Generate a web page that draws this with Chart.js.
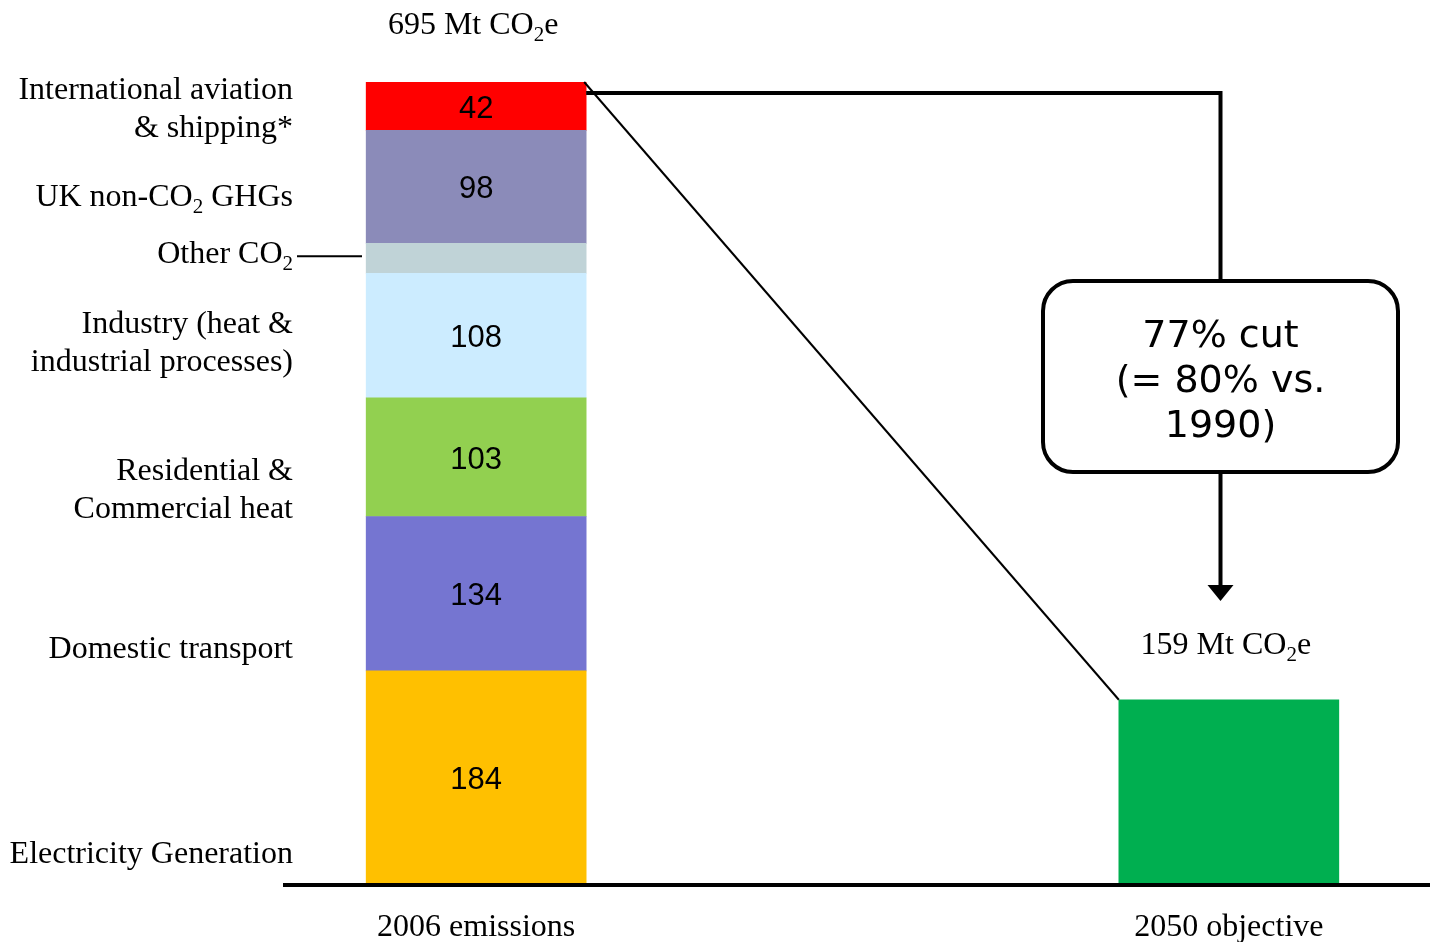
<!DOCTYPE html>
<html>
<head>
<meta charset="utf-8">
<title>UK emissions: 2006 vs 2050 objective</title>
<script src="https://cdn.jsdelivr.net/npm/chart.js@4.4.0/dist/chart.umd.min.js"></script>
<style>
  html, body { margin: 0; padding: 0; background: #fff; }
  #wrap { width: 1430px; height: 942px; }
</style>
</head>
<body>
<div id="wrap"><canvas id="chart" width="1430" height="942"></canvas></div>
<script>
// data
const categories = ['2006 emissions', '', '2050 objective'];
const sectors = [
    'Electricity Generation',
    'Domestic transport',
    'Residential &\nCommercial heat',
    'Industry (heat &\nindustrial processes)',
    'Other CO₂',
    'UK non-CO₂ GHGs',
    'International aviation\n& shipping*'
];
const emissions2006 = [184, 134, 103, 108, 26, 98, 42];
const objective2050 = [159];
const cutText = ['77% cut', '(= 80% vs.', '1990)'];

const sectorColors = ['#FFC000', '#7575D1', '#92D050', '#CCECFF', '#C0D3D7', '#8B8BB9', '#FF0000'];
const objectiveColor = '#00AF50';
const total2006 = emissions2006.reduce((a, b) => a + b, 0);

const SERIF = "'Liberation Serif', 'Times New Roman', serif";
const SANS = "'Liberation Sans', Arial, sans-serif";
const VERDANA = "'DejaVu Sans', Verdana, sans-serif";

// text with a real subscript 2 for CO₂
function drawRich(ctx, text, x, y, size, family, align) {
    const mainFont = size + 'px ' + family;
    const subFont = Math.round(size * 0.65) + 'px ' + family;
    const runs = [];
    text.split('₂').forEach((p, i, arr) => {
        runs.push({ t: p, sub: false });
        if (i < arr.length - 1) runs.push({ t: '2', sub: true });
    });
    let w = 0;
    runs.forEach(r => {
        ctx.font = r.sub ? subFont : mainFont;
        r.w = ctx.measureText(r.t).width;
        w += r.w;
    });
    let cx = align === 'right' ? x - w : align === 'center' ? x - w / 2 : x;
    ctx.textAlign = 'left';
    ctx.textBaseline = 'alphabetic';
    runs.forEach(r => {
        ctx.font = r.sub ? subFont : mainFont;
        ctx.fillText(r.t, cx, r.sub ? y + size * 0.22 : y);
        cx += r.w;
    });
}

const datasets = sectors.map((name, i) => ({
    label: name,
    data: [emissions2006[i], null, null],
    backgroundColor: sectorColors[i],
    borderWidth: 0,
    stack: 'all',
    barThickness: 220
}));
datasets.push({
    label: '2050 objective',
    data: [null, null, objective2050[0]],
    backgroundColor: objectiveColor,
    borderWidth: 0,
    stack: 'all',
    barThickness: 220
});

// 注释：标签、连线、方框
const annotations = {
    id: 'annotations',
    afterDatasetsDraw(chart) {
        const ctx = chart.ctx;
        const area = chart.chartArea;
        ctx.save();
        ctx.fillStyle = '#000';
        ctx.strokeStyle = '#000';

        // baseline
        ctx.lineWidth = 4;
        ctx.beginPath();
        ctx.moveTo(283, area.bottom + 2);
        ctx.lineTo(chart.width, area.bottom + 2);
        ctx.stroke();

        // segment labels on the left + values inside
        const nudge = [75, 53, 30, 5, -7, 8, 0];
        sectors.forEach((name, i) => {
            const el = chart.getDatasetMeta(i).data[0];
            const cy = (el.y + el.base) / 2;
            if (name !== 'Other CO₂') {
                ctx.font = '31px ' + SANS;
                ctx.textAlign = 'center';
                ctx.textBaseline = 'middle';
                ctx.fillText(String(emissions2006[i]), el.x, cy + 3);
            } else {
                ctx.lineWidth = 2;
                ctx.beginPath();
                ctx.moveTo(297, cy - 2);
                ctx.lineTo(362, cy - 2);
                ctx.stroke();
            }
            const lines = name.split('\n');
            const mid = cy + nudge[i];
            lines.forEach((ln, j) => {
                const by = mid + (j - (lines.length - 1) / 2) * 38 + 11.5;
                drawRich(ctx, ln, 293, by, 32, SERIF, 'right');
            });
        });

        // totals above bars
        const top1 = chart.getDatasetMeta(sectors.length - 1).data[0];
        const bar2 = chart.getDatasetMeta(sectors.length).data[2];
        drawRich(ctx, total2006 + ' Mt CO₂e', top1.x - 3, top1.y - 48, 32, SERIF, 'center');
        drawRich(ctx, objective2050[0] + ' Mt CO₂e', bar2.x - 3, bar2.y - 46, 32, SERIF, 'center');

        // diagonal from bar to bar
        ctx.lineWidth = 2;
        ctx.beginPath();
        ctx.moveTo(top1.x + top1.width / 2 - 2, top1.y);
        ctx.lineTo(bar2.x - bar2.width / 2, bar2.y);
        ctx.stroke();

        // callout box
        const box = { x: 1043, y: 281, w: 355, h: 191, r: 30 };
        const colX = box.x + box.w / 2;
        ctx.lineWidth = 4;
        ctx.beginPath();
        ctx.moveTo(top1.x + top1.width / 2, top1.y + 11);
        ctx.lineTo(colX, top1.y + 11);
        ctx.lineTo(colX, box.y);
        ctx.moveTo(colX, box.y + box.h);
        ctx.lineTo(colX, 586);
        ctx.stroke();
        ctx.beginPath();
        ctx.moveTo(colX - 13, 585);
        ctx.lineTo(colX + 13, 585);
        ctx.lineTo(colX, 601);
        ctx.closePath();
        ctx.fill();

        ctx.beginPath();
        ctx.roundRect(box.x, box.y, box.w, box.h, box.r);
        ctx.fillStyle = '#fff';
        ctx.fill();
        ctx.stroke();
        ctx.fillStyle = '#000';
        ctx.font = '38px ' + VERDANA;
        ctx.textAlign = 'center';
        ctx.textBaseline = 'alphabetic';
        cutText.forEach((t, j) => ctx.fillText(t, colX, 347 + j * 45));

        ctx.restore();
    }
};

new Chart(document.getElementById('chart'), {
    type: 'bar',
    data: { labels: categories, datasets: datasets },
    options: {
        responsive: false,
        devicePixelRatio: 1,
        animation: false,
        layout: { padding: { left: 288, right: 13, top: 82, bottom: 0 } },
        plugins: { legend: { display: false }, tooltip: { enabled: false } },
        scales: {
            x: {
                stacked: true,
                grid: { display: false, drawTicks: false },
                border: { display: false },
                ticks: {
                    color: '#000',
                    font: { family: SERIF, size: 32 },
                    padding: 25,
                    maxRotation: 0,
                    autoSkip: false
                },
                afterFit: s => { s.height = 59; }
            },
            y: {
                stacked: true,
                display: false,
                min: 0,
                max: total2006
            }
        }
    },
    plugins: [annotations]
});
</script>
</body>
</html>
